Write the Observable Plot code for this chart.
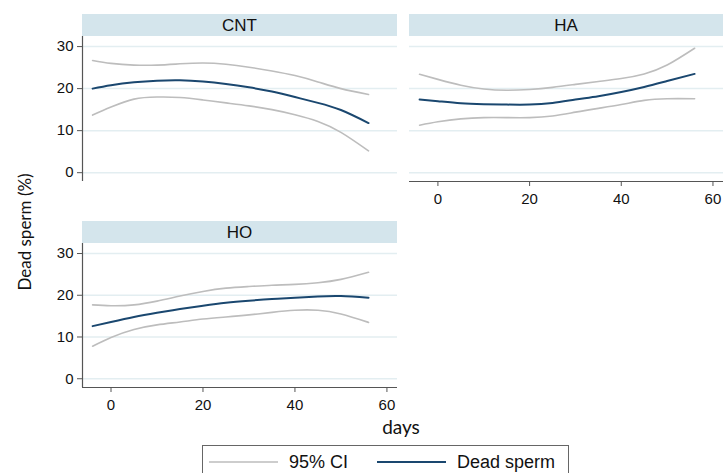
<!DOCTYPE html>
<html>
<head>
<meta charset="utf-8">
<script src="https://cdn.jsdelivr.net/npm/d3@7"></script>
<script src="https://cdn.jsdelivr.net/npm/@observablehq/plot@0.6"></script>
<style>
  html, body { margin: 0; padding: 0; background: #fff; }
  #chart { position: relative; width: 723px; height: 473px; overflow: hidden; font-family: "Liberation Sans", Arial, sans-serif; }
  .panel { position: absolute; }
  .strip { position: absolute; height: 22px; line-height: 23px; background: #d4e5ec; text-align: center; font-size: 17px; color: #111; }
  .ylab { position: absolute; left: 24px; top: 232px; transform: translate(-50%, -50%) rotate(-90deg); font-family: Lato, "Open Sans", sans-serif; font-size: 17px; white-space: nowrap; color: #111; }
  .xlab { position: absolute; left: 401px; top: 426px; transform: translate(-50%, -50%); font-family: Lato, "Open Sans", sans-serif; font-size: 19px; color: #111; }
  .legend { position: absolute; left: 202px; top: 445px; width: 367px; height: 40px; border: 1px solid #666; box-sizing: border-box; font-size: 18px; color: #111; }
  .legend .item { position: absolute; top: 4px; display: flex; align-items: center; }
</style>
</head>
<body>
<div id="chart"></div>
<script>
// ---- data ----
const days = [-4, 0, 5, 10, 15, 20, 25, 30, 35, 40, 45, 50, 56];

const cntMean  = [20.0, 20.8, 21.5, 21.9, 22.0, 21.7, 21.1, 20.3, 19.3, 18.0, 16.6, 14.9, 11.8];
const cntUpper = [26.7, 26.0, 25.6, 25.6, 25.9, 26.1, 25.8, 25.1, 24.2, 23.1, 21.6, 20.0, 18.6];
const cntLower = [13.7, 15.6, 17.5, 18.0, 17.9, 17.3, 16.6, 15.9, 15.0, 13.8, 12.2, 9.6, 5.2];

const haMean  = [17.4, 17.0, 16.5, 16.3, 16.2, 16.2, 16.6, 17.4, 18.2, 19.2, 20.4, 21.8, 23.5];
const haUpper = [23.4, 22.2, 20.8, 19.9, 19.6, 19.8, 20.3, 21.0, 21.7, 22.4, 23.5, 25.6, 29.6];
const haLower = [11.3, 12.1, 12.8, 13.1, 13.1, 13.1, 13.5, 14.4, 15.3, 16.2, 17.2, 17.6, 17.6];

const hoMean  = [12.6, 13.6, 14.8, 15.8, 16.7, 17.5, 18.2, 18.7, 19.1, 19.4, 19.7, 19.8, 19.4];
const hoUpper = [17.7, 17.5, 17.7, 18.6, 19.8, 20.9, 21.7, 22.1, 22.4, 22.6, 23.0, 23.8, 25.5];
const hoLower = [7.8, 9.9, 11.8, 12.9, 13.6, 14.3, 14.8, 15.3, 15.9, 16.4, 16.4, 15.5, 13.5];

const groups = ["CNT", "HA", "HO"];
const xTicks = [0, 20, 40, 60];
const yTicks = [0, 10, 20, 30];
const seriesLabels = ["95% CI", "Dead sperm"];
const yTitle = "Dead sperm (%)";
const xTitle = "days";

// ---- styling ----
const ciColor = "#bdbdbd";
const meanColor = "#1a476f";
const gridColor = "#e3eef1";
const axisColor = "#555";
const xDomain = [-6.2, 62.3];
const yDomain = [-2.1, 32.4];

function rows(mean, upper, lower) {
  return days.map((d, i) => ({day: d, mean: mean[i], upper: upper[i], lower: lower[i]}));
}

function panel({data, showX, showY, width, height, mt, mr, mb, ml}) {
  const marks = [
    Plot.gridY(yTicks, {stroke: gridColor, strokeOpacity: 1, strokeWidth: 1.5}),
    Plot.line(data, {x: "day", y: "upper", stroke: ciColor, strokeWidth: 1.6, curve: "natural"}),
    Plot.line(data, {x: "day", y: "lower", stroke: ciColor, strokeWidth: 1.6, curve: "natural"}),
    Plot.line(data, {x: "day", y: "mean", stroke: meanColor, strokeWidth: 2, curve: "natural"})
  ];
  if (showY) {
    marks.push(Plot.ruleX([xDomain[0]], {stroke: axisColor, strokeWidth: 1.2}));
    marks.push(Plot.axisY(yTicks, {tickSize: 5, tickPadding: 4, stroke: axisColor, fill: "#111", fontSize: 15, label: null}));
  }
  if (showX) {
    marks.push(Plot.ruleY([yDomain[0]], {stroke: axisColor, strokeWidth: 1.2}));
    marks.push(Plot.axisX(xTicks, {tickSize: 5, tickPadding: 7, stroke: axisColor, fill: "#111", fontSize: 15, label: null}));
  }
  return Plot.plot({
    width, height,
    marginTop: mt, marginRight: mr, marginBottom: mb, marginLeft: ml,
    x: {domain: xDomain, ...(showX ? {} : {axis: null})},
    y: {domain: yDomain, ...(showY ? {} : {axis: null})},
    style: {fontFamily: "'Liberation Sans', Arial, sans-serif", fontSize: "15px", background: "transparent", overflow: "visible"},
    marks
  });
}

const chart = document.getElementById("chart");

function place(node, left, top) {
  node.classList.add("panel");
  node.style.left = left + "px";
  node.style.top = top + "px";
  chart.appendChild(node);
}
function strip(text, left, top, width) {
  const s = document.createElement("div");
  s.className = "strip";
  s.style.left = left + "px";
  s.style.top = top + "px";
  s.style.width = width + "px";
  s.textContent = text;
  chart.appendChild(s);
}

// CNT (top-left): y axis only
place(panel({data: rows(cntMean, cntUpper, cntLower), showX: false, showY: true,
  width: 400, height: 190, mt: 36, mr: 3, mb: 9, ml: 82}), 0, 0);
strip(groups[0], 82, 14, 315);

// HA (top-right): x axis only
place(panel({data: rows(haMean, haUpper, haLower), showX: true, showY: false,
  width: 323, height: 215, mt: 36, mr: 0, mb: 34, ml: 9}), 400, 0);
strip(groups[1], 409, 14, 314);

// HO (bottom-left): both axes
place(panel({data: rows(hoMean, hoUpper, hoLower), showX: true, showY: true,
  width: 400, height: 221, mt: 43, mr: 3, mb: 34, ml: 82}), 0, 200);
strip(groups[2], 82, 221, 315);

// axis titles
const yl = document.createElement("div"); yl.className = "ylab"; yl.textContent = yTitle; chart.appendChild(yl);
const xl = document.createElement("div"); xl.className = "xlab"; xl.textContent = xTitle; chart.appendChild(xl);

// legend
const leg = document.createElement("div"); leg.className = "legend"; chart.appendChild(leg);
const legItems = [
  {label: seriesLabels[0], color: ciColor, width: 1.6, left: 6},
  {label: seriesLabels[1], color: meanColor, width: 2, left: 174}
];
for (const it of legItems) {
  const d = document.createElement("div");
  d.className = "item";
  d.style.left = it.left + "px";
  d.innerHTML = `<svg width="69" height="24"><line x1="0" x2="69" y1="12" y2="12" stroke="${it.color}" stroke-width="${it.width}"/></svg><span style="margin-left:11px">${it.label}</span>`;
  leg.appendChild(d);
}
</script>
</body>
</html>
